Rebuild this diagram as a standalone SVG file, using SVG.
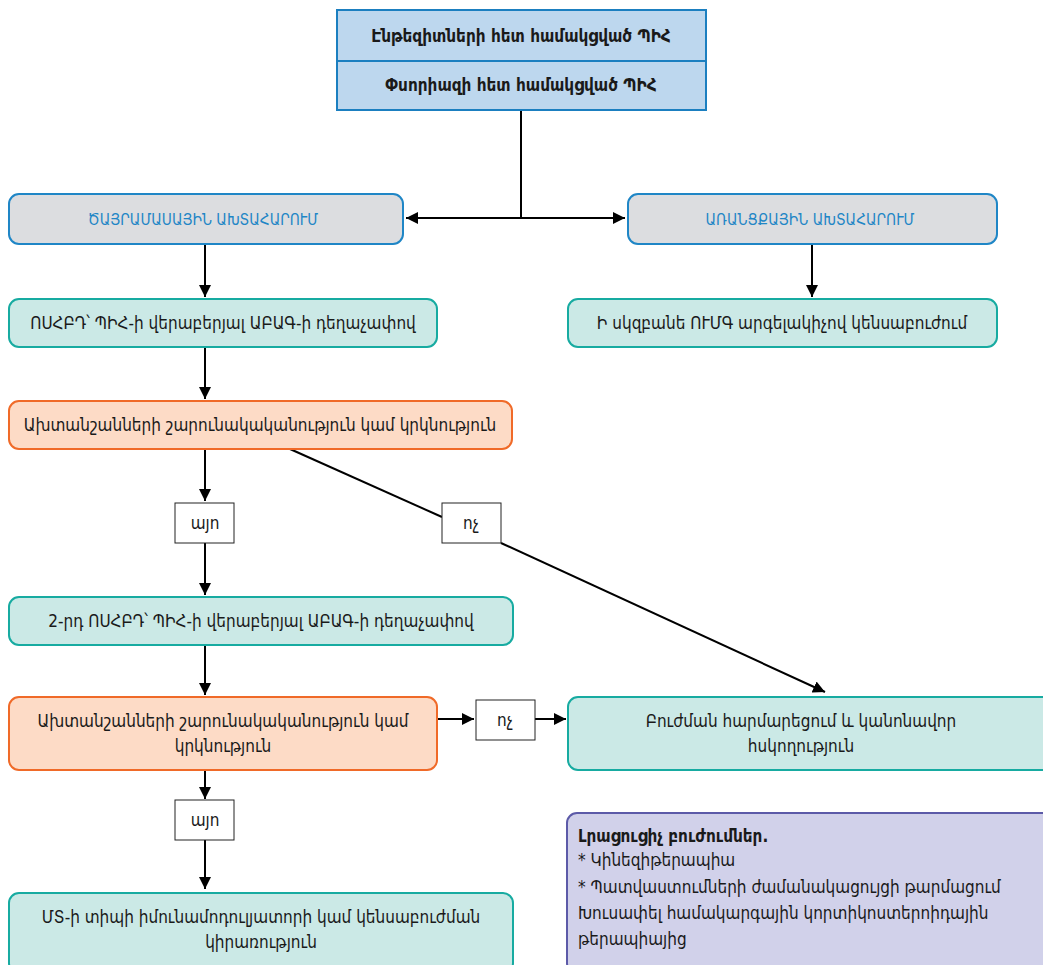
<svg xmlns="http://www.w3.org/2000/svg" width="1043" height="965" viewBox="0 0 1043 965">
  <style>
    text { font-family: "DejaVu Sans Condensed", "DejaVu Sans", sans-serif; font-size: 17px; fill: #1a1a1a; text-anchor: middle; }
    .hdr { fill: #bdd7ee; stroke: #1b7fc0; stroke-width: 2; }
    .hdr-t { font-weight: bold; font-size: 17px; }
    .gray { fill: #dcdde0; stroke: #1f86c6; stroke-width: 2; }
    .gray-t { fill: #1f86c6; font-size: 15.3px; }
    .teal { fill: #cbe9e6; stroke: #17aba1; stroke-width: 2; }
    .orange { fill: #fddbc6; stroke: #f06a28; stroke-width: 2; }
    .lbl { fill: #ffffff; stroke: #222; stroke-width: 1; }
    .legend { fill: #d1d1ea; stroke: #5c5aa8; stroke-width: 2; }
    .legend-t { text-anchor: start; }
    .wire { stroke: #000; stroke-width: 2; fill: none; }
  </style>
  <defs>
    <marker id="arrow" viewBox="0 0 10 10" refX="10" refY="5" markerWidth="6" markerHeight="6" orient="auto" markerUnits="strokeWidth">
      <path d="M0,0 L10,5 L0,10 z" fill="#000"/>
    </marker>
  </defs>

  <rect width="1043" height="965" fill="#ffffff"/>

  <!-- connectors -->
  <g id="connectors" class="wire">
    <line x1="521" y1="110" x2="521" y2="218"/>
    <line x1="521" y1="218" x2="406" y2="218" marker-end="url(#arrow)"/>
    <line x1="521" y1="218" x2="625" y2="218" marker-end="url(#arrow)"/>
    <line x1="205" y1="245" x2="205" y2="297" marker-end="url(#arrow)"/>
    <line x1="812" y1="245" x2="812" y2="297" marker-end="url(#arrow)"/>
    <line x1="205" y1="348" x2="205" y2="399" marker-end="url(#arrow)"/>
    <line x1="205" y1="450" x2="205" y2="501" marker-end="url(#arrow)"/>
    <line x1="205" y1="543" x2="205" y2="595" marker-end="url(#arrow)"/>
    <line x1="290" y1="449" x2="442" y2="517"/>
    <line x1="501" y1="543" x2="825" y2="692" marker-end="url(#arrow)"/>
    <line x1="205" y1="646" x2="205" y2="695" marker-end="url(#arrow)"/>
    <line x1="438" y1="719" x2="474" y2="719" marker-end="url(#arrow)"/>
    <line x1="535" y1="719" x2="566" y2="719" marker-end="url(#arrow)"/>
    <line x1="205" y1="771" x2="205" y2="799" marker-end="url(#arrow)"/>
    <line x1="205" y1="840" x2="205" y2="889" marker-end="url(#arrow)"/>
  </g>

  <!-- header stack -->
  <g id="hdr1">
    <rect class="hdr" x="337" y="10" width="369" height="51"/>
    <text class="hdr-t" x="521" y="42">Էնթեզիտների հետ համակցված ՊԻՀ</text>
  </g>
  <g id="hdr2">
    <rect class="hdr" x="337" y="61" width="369" height="49"/>
    <text class="hdr-t" x="521" y="91">Փսորիազի հետ համակցված ՊԻՀ</text>
  </g>

  <g id="axial">
    <rect class="gray" x="9" y="194" width="394" height="50" rx="10"/>
    <text class="gray-t" x="203" y="225">ԾԱՅՐԱՄԱՍԱՅԻՆ ԱԽՏԱՀԱՐՈՒՄ</text>
  </g>
  <g id="peripheral">
    <rect class="gray" x="628" y="194" width="369" height="50" rx="10"/>
    <text class="gray-t" x="810" y="225">ԱՌԱՆՑՔԱՅԻՆ ԱԽՏԱՀԱՐՈՒՄ</text>
  </g>

  <g id="nsaid1">
    <rect class="teal" x="9" y="299" width="428" height="48" rx="10"/>
    <text x="223" y="329">ՈՍՀԲԴ՝ ՊԻՀ-ի վերաբերյալ ԱԲԱԳ-ի դեղաչափով</text>
  </g>
  <g id="tnf-start">
    <rect class="teal" x="568" y="299" width="429" height="48" rx="10"/>
    <text x="782" y="329">Ի սկզբանե ՈՒՄԳ արգելակիչով կենսաբուժում</text>
  </g>

  <g id="check1">
    <rect class="orange" x="9" y="401" width="503" height="48" rx="10"/>
    <text x="260" y="431">Ախտանշանների շարունակականություն կամ կրկնություն</text>
  </g>

  <g id="yes1">
    <rect class="lbl" x="175" y="503" width="59" height="40"/>
    <text x="205" y="529">այո</text>
  </g>
  <g id="no1">
    <rect class="lbl" x="442" y="503" width="59" height="40"/>
    <text x="471" y="529">ոչ</text>
  </g>

  <g id="nsaid2">
    <rect class="teal" x="9" y="597" width="504" height="48" rx="10"/>
    <text x="261" y="627">2-րդ ՈՍՀԲԴ՝ ՊԻՀ-ի վերաբերյալ ԱԲԱԳ-ի դեղաչափով</text>
  </g>

  <g id="check2">
    <rect class="orange" x="9" y="697" width="428" height="73" rx="10"/>
    <text x="223" y="727">Ախտանշանների շարունակականություն կամ</text>
    <text x="223" y="752">կրկնություն</text>
  </g>

  <g id="no2">
    <rect class="lbl" x="476" y="700" width="59" height="40"/>
    <text x="505" y="726">ոչ</text>
  </g>

  <g id="adjust">
    <rect class="teal" x="568" y="697" width="485" height="73" rx="10"/>
    <text x="801" y="727">Բուժման հարմարեցում և կանոնավոր</text>
    <text x="801" y="752">հսկողություն</text>
  </g>

  <g id="yes2">
    <rect class="lbl" x="175" y="800" width="59" height="40"/>
    <text x="205" y="826">այո</text>
  </g>

  <g id="biologic">
    <rect class="teal" x="9" y="893" width="504" height="80" rx="10"/>
    <text x="261" y="923">ՄՏ-ի տիպի իմունամոդուլյատորի կամ կենսաբուժման</text>
    <text x="261" y="948">կիրառություն</text>
  </g>

  <g id="legend">
    <rect class="legend" x="567" y="813" width="486" height="160" rx="10"/>
    <text class="legend-t" x="578" y="842" font-weight="bold" font-size="18">Լրացուցիչ բուժումներ.</text>
    <text class="legend-t" x="578" y="866">* Կինեզիթերապիա</text>
    <text class="legend-t" x="578" y="893">* Պատվաստումների ժամանակացույցի թարմացում</text>
    <text class="legend-t" x="578" y="919">Խուսափել համակարգային կորտիկոստերոիդային</text>
    <text class="legend-t" x="578" y="945">թերապիայից</text>
  </g>
</svg>
